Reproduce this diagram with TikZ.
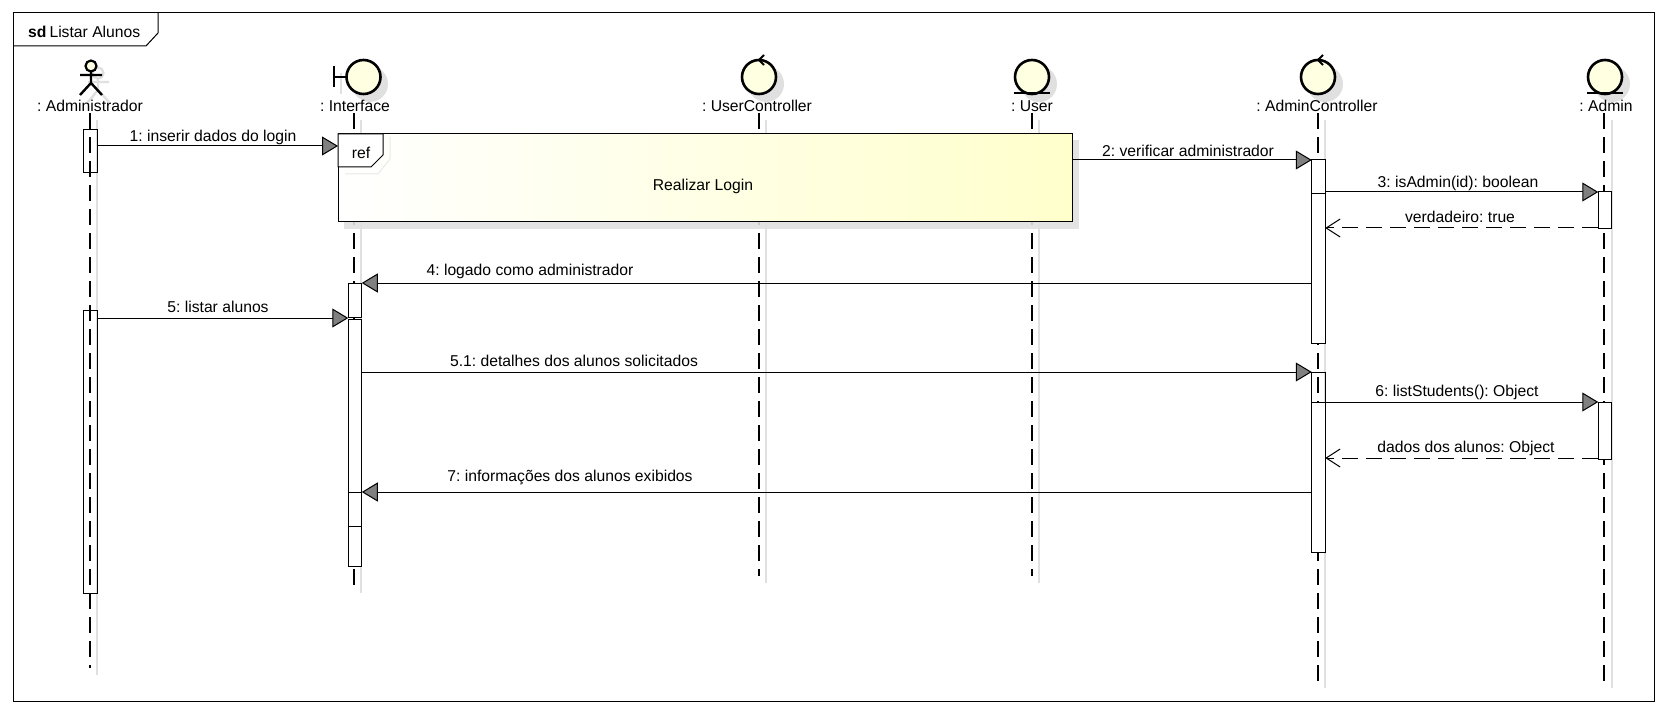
\documentclass[tikz,border=0pt]{standalone}
\usepackage{fontspec}
\setmainfont{Liberation Sans}
\usetikzlibrary{arrows.meta}
\definecolor{umlyellow}{HTML}{FFFFCC}
\definecolor{umlhead}{HTML}{FFFFE2}
\definecolor{umlshadow}{HTML}{E0E0E0}
\tikzset{
  lbl/.style={inner sep=0pt,font=\fontsize{15.7}{18}\selectfont\frenchspacing},
  head/.style={draw,circle,fill=umlhead,line width=2.6pt,minimum size=34pt,inner sep=0pt,outer sep=0pt},
  headshadow/.style={circle,fill=umlshadow,minimum size=36pt,inner sep=0pt},
  stroke/.style={line width=2.4pt},
  life/.style={line width=1.2pt,dash pattern=on 16pt off 8pt},
  lifeshadow/.style={line width=1.1pt,umlshadow},
  bar/.style={draw,line width=1pt,minimum width=13.5pt,inner sep=0pt,outer sep=0pt},
  whitebar/.style={bar,fill=white},
  msg/.style={line width=1pt,-{Triangle[length=16pt,width=19pt,fill=black!50]}},
  ret/.style={line width=1pt,dash pattern=on 16pt off 8pt,-{Straight Barb[length=14pt,width=18pt,line width=1pt]}}
}
\begin{document}
\begin{tikzpicture}[x=1pt,y=-1pt]
  \useasboundingbox (0,0) rectangle (1668,714);
  % frame
  \node[draw,line width=1pt,minimum width=1641pt,minimum height=688pt,inner sep=0pt,outer sep=0pt] (Frame) at (833.5,357) {};
  \draw[line width=1pt] (Frame.north west |- 0,46) -- (146,46) -- (158,33) -- (158,13);
  \node[lbl,anchor=west] (FrameName) at (28,32) {\textbf{sd}\hspace{3pt}Listar Alunos};
  % shadows of the heads
  \draw[stroke,umlshadow] (98,73) circle (5.5pt);
  \draw[stroke,umlshadow] (88,82) -- (109,82) (98,79) -- (98,90) -- (88,102) (98,90) -- (109,102);
  \draw[stroke,umlshadow] (341,73) -- (341,94);
  \node[headshadow] (IntShadow) at (370,84) {};
  \node[headshadow] (UsrCtlShadow) at (766,84) {};
  \node[headshadow] (UsrShadow) at (1039,84) {};
  \node[headshadow] (AdmCtlShadow) at (1325,84) {};
  \node[headshadow] (AdnShadow) at (1612,84) {};
  % heads
  \node[draw,circle,fill=umlhead,line width=2.2pt,minimum size=11pt,inner sep=0pt,outer sep=0pt] (AdmHead) at (91,66) {};
  \draw[stroke] (AdmHead.south) -- (91,83) -- (80,95) (91,83) -- (102,95) (80,75) -- (102,75);
  \node[head] (IntHead) at (363.5,77) {};
  \draw[stroke] (IntHead.west) -- (334,77) (334,66) -- (334,87);
  \node[head] (UsrCtlHead) at (759,77) {};
  \draw[stroke,line width=2pt] (764,55) -- (759,60) -- (764,65);
  \node[head] (UsrHead) at (1032,77) {};
  \draw[stroke] (1014,93) -- (1050,93);
  \node[head] (AdmCtlHead) at (1318,77) {};
  \draw[stroke,line width=2pt] (1323,55) -- (1318,60) -- (1323,65);
  \node[head] (AdnHead) at (1605,77) {};
  \draw[stroke] (1587,93) -- (1623,93);
  % names
  \node[lbl] (AdmName) at (90,106) {: Administrador};
  \node[lbl] (IntName) at (355,106) {: Interface};
  \node[lbl] (UsrCtlName) at (757,106) {: UserController};
  \node[lbl] (UsrName) at (1032,106) {: User};
  \node[lbl] (AdmCtlName) at (1317,106) {: AdminController};
  \node[lbl] (AdnName) at (1606,106) {: Admin};
  % lifeline shadows
  \draw[lifeshadow] (97,120) -- (97,675);
  \draw[lifeshadow] (361,120) -- (361,593);
  \draw[lifeshadow] (766,120) -- (766,583);
  \draw[lifeshadow] (1039,120) -- (1039,583);
  \draw[lifeshadow] (1325,120) -- (1325,688);
  \draw[lifeshadow] (1612,120) -- (1612,688);
  % lifelines
  \coordinate (AdmTop) at (90,113);
  \coordinate (AdmEnd) at (90,668);
  \coordinate (IntTop) at (354,113);
  \coordinate (IntEnd) at (354,586);
  \coordinate (UsrCtlTop) at (759,113);
  \coordinate (UsrCtlEnd) at (759,576);
  \coordinate (UsrTop) at (1032,113);
  \coordinate (UsrEnd) at (1032,576);
  \coordinate (AdmCtlTop) at (1318,113);
  \coordinate (AdmCtlEnd) at (1318,682);
  \coordinate (AdnTop) at (1604,113);
  \coordinate (AdnEnd) at (1604,682);
  \draw[life] (AdmTop) -- (AdmEnd);
  \draw[life] (IntTop) -- (IntEnd);
  \draw[life] (UsrCtlTop) -- (UsrCtlEnd);
  \draw[life] (UsrTop) -- (UsrEnd);
  \draw[life] (AdmCtlTop) -- (AdmCtlEnd);
  \draw[life] (AdnTop) -- (AdnEnd);
  % ref
  \fill[umlshadow,opacity=.9] (344,140) rectangle (1079,229);
  \node[draw,line width=1pt,left color=white,right color=umlyellow,minimum width=734pt,minimum height=88pt,inner sep=0pt,outer sep=0pt] (RefBox) at (705,178) {};
  \draw[line width=1pt,umlshadow!70] (390,137) -- (390,159) -- (378,174) -- (345,174);
  \draw[line width=1pt,fill=white] (338,134) -- (383,134) -- (383,155) -- (371,167) -- (338,167) -- cycle;
  \node[lbl] (RefTag) at (361,153) {ref};
  \node[lbl] (RefName) at (703,186) {Realizar Login};
  % activation bars
  \node[bar,minimum height=43pt] (AdmBarA) at (90.5,151.5) {};
  \node[bar,minimum height=283pt] (AdmBarB) at (90.5,451.5) {};
  \node[whitebar,minimum height=34pt] (IntBarA) at (355,300) {};
  \node[whitebar,minimum height=173pt] (IntBarB) at (355,405.5) {};
  \node[whitebar,minimum height=34pt] (IntBarC) at (355,509) {};
  \node[whitebar,minimum height=40pt] (IntBarD) at (355,546) {};
  \node[whitebar,minimum height=34pt] (CtlBarA) at (1318.5,177) {};
  \node[whitebar,minimum height=149pt] (CtlBarB) at (1318.5,268.5) {};
  \node[bar,minimum height=30pt] (CtlBarC) at (1318.5,387) {};
  \node[whitebar,minimum height=150pt] (CtlBarD) at (1318.5,477) {};
  \node[whitebar,minimum height=37pt] (AdnBarA) at (1605,210.5) {};
  \node[whitebar,minimum height=57pt] (AdnBarB) at (1605,430.5) {};
  % heights of the messages
  \coordinate (MsgA) at (0,146);
  \coordinate (MsgB) at (0,160);
  \coordinate (MsgC) at (0,192);
  \coordinate (MsgD) at (0,228);
  \coordinate (MsgE) at (0,283);
  \coordinate (MsgF) at (0,318);
  \coordinate (MsgG) at (0,372);
  \coordinate (MsgH) at (0,402);
  \coordinate (MsgI) at (0,458);
  \coordinate (MsgJ) at (0,492);
  % messages
  \draw[msg] (AdmBarA.east |- MsgA) -- (RefBox.west |- MsgA);
  \draw[msg] (RefBox.east |- MsgB) -- (CtlBarA.west |- MsgB);
  \draw[msg] (CtlBarB.east |- MsgC) -- (AdnBarA.west |- MsgC);
  \draw[ret] (AdnBarA.west |- MsgD) -- (CtlBarB.east |- MsgD);
  \draw[msg] (CtlBarB.west |- MsgE) -- (IntBarA.east |- MsgE);
  \draw[msg] (AdmBarB.east |- MsgF) -- (IntBarB.west |- MsgF);
  \draw[msg] (IntBarB.east |- MsgG) -- (CtlBarC.west |- MsgG);
  \draw[msg] (CtlBarD.east |- MsgH) -- (AdnBarB.west |- MsgH);
  \draw[ret] (AdnBarB.west |- MsgI) -- (CtlBarD.east |- MsgI);
  \draw[msg] (CtlBarD.west |- MsgJ) -- (IntBarC.east |- MsgJ);
  % message texts
  \node[lbl] (TxtA) at (213,137) {1: inserir dados do login};
  \node[lbl] (TxtB) at (1188,151) {2: verificar administrador};
  \node[lbl] (TxtC) at (1458,183) {3: isAdmin(id): boolean};
  \node[lbl] (TxtD) at (1460,217) {verdadeiro: true};
  \node[lbl] (TxtE) at (530,271) {4: logado como administrador};
  \node[lbl] (TxtF) at (218,307) {5: listar alunos};
  \node[lbl] (TxtG) at (574,361) {5.1: detalhes dos alunos solicitados};
  \node[lbl] (TxtH) at (1457,392) {6: listStudents(): Object};
  \node[lbl] (TxtI) at (1466,448) {dados dos alunos: Object};
  \node[lbl] (TxtJ) at (570,477) {7: informações dos alunos exibidos};
\end{tikzpicture}
\end{document}
